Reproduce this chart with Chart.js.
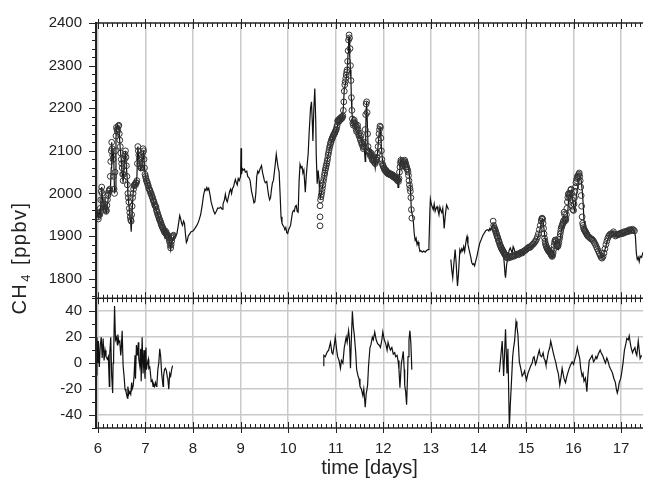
<!DOCTYPE html>
<html>
<head>
<meta charset="utf-8">
<script src="https://cdn.jsdelivr.net/npm/chart.js@4"></script>
<style>
  html, body { margin: 0; padding: 0; background: #ffffff; }
  #wrap { position: relative; width: 648px; height: 480px; }
</style>
</head>
<body>
<div id="wrap"><canvas id="c" width="648" height="480"></canvas></div>
<script>
// ---------------- data (time in days, CH4 in ppbv) ----------------
const xTicks = [6, 7, 8, 9, 10, 11, 12, 13, 14, 15, 16, 17];
const yTicksTop = [1800, 1900, 2000, 2100, 2200, 2300, 2400];
const yTicksBottom = [-40, -20, 0, 20, 40];

// continuous CH4 record (line), first part
const lineSeg1 = [
 [5.97,1940],[5.99,1955],[6.01,1945],[6.03,1960],[6.05,1950],[6.07,1990],[6.08,2015],[6.10,1985],[6.12,1965],[6.14,1975],
 [6.16,1960],[6.18,1955],[6.20,1975],[6.22,1990],[6.24,2005],[6.26,2000],[6.28,2060],[6.29,2120],[6.31,2090],[6.32,2075],
 [6.33,2100],[6.35,2000],[6.36,2010],[6.38,2130],[6.39,2155],[6.41,2160],[6.43,2150],[6.44,2160],[6.46,2120],[6.47,2105],
 [6.49,2080],[6.50,2060],[6.51,2050],[6.53,2025],[6.55,2065],[6.57,2090],[6.58,2100],[6.60,2060],[6.62,2030],[6.63,2000],
 [6.65,1975],[6.67,1950],[6.69,1930],[6.70,1910],[6.72,1960],[6.74,2000],[6.76,2020],[6.78,2020],[6.80,2025],[6.82,2040],
 [6.84,2110],[6.86,2080],[6.88,2070],[6.90,2055],[6.92,2060],[6.94,2080],[6.96,2100],[6.98,2060],[7.00,2040],[7.02,2030],
 [7.05,2020],[7.08,2010],[7.11,2000],[7.14,1995],[7.17,1980],[7.20,1970],[7.23,1960],[7.26,1950],[7.29,1940],[7.32,1930],
 [7.35,1925],[7.38,1915],[7.40,1900],[7.42,1915],[7.45,1905],[7.48,1900],[7.50,1890],[7.53,1868],[7.55,1885],[7.58,1895],
 [7.60,1900],[7.63,1900],[7.66,1905],[7.69,1925],[7.72,1948],[7.74,1940],[7.76,1930],[7.78,1925],[7.80,1935],[7.82,1930],
 [7.84,1905],[7.86,1885],[7.88,1890],[7.90,1900],[7.93,1905],[7.96,1910],[8.00,1912],[8.04,1918],[8.08,1925],[8.12,1935],
 [8.16,1950],[8.19,1970],[8.22,1995],[8.25,2010],[8.27,2007],[8.29,2014],[8.31,2008],[8.33,2012],[8.36,1995],[8.38,1980],
 [8.40,1972],[8.43,1960],[8.46,1952],[8.49,1958],[8.52,1966],[8.55,1965],[8.58,1968],[8.61,1963],[8.63,1975],[8.66,1985],
 [8.68,1998],[8.70,1985],[8.72,1980],[8.75,1995],[8.77,2005],[8.79,2010],[8.81,2000],[8.83,2012],[8.85,2015],[8.87,2025],
 [8.89,2033],[8.91,2025],[8.93,2020],[8.95,2035],[8.97,2030],[9.00,2040],[9.01,2106],[9.02,2045],[9.04,2058],[9.06,2055],
 [9.08,2057],[9.10,2050],[9.13,2052],[9.15,2040],[9.18,2036],[9.20,2030],[9.23,2005],[9.26,1990],[9.28,1978],[9.30,1980],
 [9.32,2000],[9.34,2040],[9.36,2052],[9.38,2048],[9.40,2055],[9.42,2060],[9.44,2065],[9.46,2050],[9.48,2040],[9.50,2030],
 [9.52,2025],[9.55,2028],[9.57,2010],[9.59,1995],[9.61,1985],[9.63,1990],[9.65,2010],[9.67,2025],[9.69,2030],[9.71,2050],
 [9.73,2070],[9.75,2092],[9.77,2075],[9.79,2060],[9.81,2050],[9.83,2000],[9.85,1945],[9.87,1930],[9.89,1925],[9.91,1922],
 [9.93,1915],[9.95,1920],[9.97,1908],[9.99,1906],[10.01,1915],[10.03,1920],[10.05,1925],[10.07,1940],[10.09,1955],[10.11,1960],
 [10.13,1958],[10.15,1970],[10.17,1972],[10.19,1958],[10.21,1956],[10.23,2030],[10.25,2068],[10.27,2060],[10.29,2065],[10.31,2048],
 [10.33,2055],[10.36,2003],[10.38,2040],[10.40,2068],[10.42,2092],[10.44,2140],[10.47,2200],[10.49,2215],[10.51,2160],[10.52,2123],
 [10.54,2200],[10.56,2246],[10.58,2170],[10.59,2092],[10.61,2023],[10.63,2054],[10.65,2030],[10.66,2000],[10.68,1990],[10.70,2000],
 [10.72,2015],[10.74,2028],[10.76,2040],[10.78,2052],[10.80,2062],[10.82,2075],[10.84,2090],[10.86,2100],[10.88,2110],[10.90,2118],
 [10.92,2125],[10.94,2131],[10.96,2136],[10.98,2140],[11.00,2145],[11.02,2150],[11.04,2160],[11.06,2165],[11.08,2169],[11.10,2172],
 [11.12,2175],[11.14,2178],[11.16,2200],[11.18,2246],[11.20,2255],[11.22,2270],[11.24,2285],[11.26,2330],[11.27,2360],[11.28,2369],
 [11.29,2355],[11.30,2320],[11.31,2290],[11.32,2262],[11.33,2220],[11.34,2190],[11.36,2170],[11.38,2160],[11.40,2165],[11.42,2155],
 [11.44,2150],[11.46,2146],[11.48,2140],[11.50,2135],[11.52,2131],[11.54,2125],[11.56,2115],[11.58,2110],[11.60,2108],[11.62,2075],
 [11.63,2140],[11.64,2200],[11.65,2215],[11.66,2180],[11.68,2108],[11.70,2105],[11.72,2095],[11.74,2100],[11.76,2085],[11.78,2090],
 [11.80,2075],[11.81,2077],[11.83,2060],[11.85,2085],[11.87,2085],[11.89,2110],[11.91,2140],[11.93,2155],[11.94,2154],[11.96,2110],
 [11.98,2080],[12.00,2069],[12.02,2060],[12.04,2054],[12.06,2058],[12.08,2052],[12.10,2048],[12.12,2050],[12.14,2046],[12.16,2042],
 [12.18,2048],[12.20,2045],[12.22,2040],[12.24,2042],[12.26,2038],[12.28,2040],[12.30,2036],[12.31,2014],[12.32,2030],[12.33,2023],
 [12.35,2060],[12.37,2081],[12.39,2070],[12.41,2062],[12.43,2058],[12.45,2068],[12.47,2075],[12.49,2072],[12.51,2065],[12.53,2058],
 [12.55,2040],[12.57,2014],[12.59,1960],[12.61,1950],[12.63,1937],[12.65,1906],[12.67,1890],[12.69,1895],[12.71,1880],[12.73,1886],
 [12.75,1875],[12.77,1864],[12.79,1866],[12.82,1862],[12.85,1865],[12.88,1862],[12.91,1866],[12.94,1868],[12.96,1880],[12.98,1960],
 [12.99,1987],[13.01,1975],[13.03,1968],[13.05,1962],[13.07,1975],[13.09,1958],[13.11,1965],[13.13,1969],[13.15,1960],[13.17,1950],
 [13.19,1968],[13.21,1960],[13.23,1955],[13.25,1965],[13.27,1935],[13.28,1918],[13.30,1945],[13.33,1973],[13.35,1968],[13.37,1962]
];
// continuous CH4 record (line), second part
const lineSeg2 = [
 [13.42,1845],[13.44,1820],[13.46,1802],[13.48,1830],[13.51,1868],[13.53,1840],[13.55,1800],[13.56,1783],[13.58,1810],[13.61,1868],
 [13.63,1862],[13.65,1870],[13.67,1865],[13.69,1875],[13.71,1864],[13.73,1880],[13.75,1895],[13.76,1899],[13.78,1880],[13.80,1870],
 [13.82,1860],[13.84,1850],[13.86,1838],[13.88,1833],[13.90,1835],[13.92,1830],[13.94,1840],[13.97,1853],[14.00,1870],[14.03,1884],
 [14.06,1892],[14.08,1898],[14.10,1903],[14.13,1908],[14.15,1912],[14.17,1914],[14.20,1915],[14.22,1912],[14.24,1918],[14.26,1914],
 [14.28,1920],[14.31,1928],[14.33,1922],[14.35,1918],[14.38,1912],[14.40,1900],[14.42,1895],[14.44,1885],[14.46,1880],[14.48,1875],
 [14.50,1870],[14.52,1862],[14.54,1840],[14.56,1810],[14.57,1802],[14.59,1830],[14.61,1845],[14.63,1858],[14.65,1868],[14.67,1872],
 [14.69,1866],[14.71,1860],[14.73,1875],[14.75,1870],[14.77,1862],[14.79,1855],[14.82,1858],[14.85,1860],[14.88,1856],[14.91,1862],
 [14.94,1858],[14.97,1868],[15.00,1872],[15.03,1870],[15.06,1874],[15.09,1872],[15.12,1876],[15.15,1878],[15.18,1882],[15.21,1888],
 [15.24,1895],[15.27,1905],[15.30,1918],[15.32,1930],[15.34,1940],[15.36,1935],[15.38,1915],[15.40,1895],[15.42,1883],[15.44,1875],
 [15.46,1870],[15.48,1866],[15.50,1860],[15.52,1856],[15.54,1852],[15.56,1850],[15.58,1860],[15.60,1880],[15.62,1890],[15.64,1885],
 [15.66,1870],[15.68,1868],[15.70,1880],[15.72,1895],[15.74,1910],[15.76,1922],[15.78,1918],[15.80,1930],[15.82,1940],[15.84,1930],
 [15.86,1937],[15.88,1960],[15.90,1990],[15.92,1998],[15.94,1990],[15.96,2005],[15.98,1985],[16.00,1970],[16.02,1960],[16.04,1975],
 [16.06,1995],[16.08,2010],[16.10,2025],[16.12,2035],[16.14,2040],[16.16,2030],[16.18,2010],[16.20,1980],[16.22,1935],[16.24,1925],
 [16.26,1918],[16.28,1914],[16.30,1910],[16.33,1905],[16.36,1900],[16.39,1898],[16.42,1895],[16.45,1890],[16.48,1885],[16.51,1875],
 [16.54,1865],[16.57,1855],[16.60,1848],[16.62,1852],[16.64,1860],[16.66,1868],[16.68,1875],[16.70,1885],[16.72,1892],[16.74,1898],
 [16.76,1903],[16.78,1905],[16.80,1908],[16.82,1910],[16.84,1907],[16.86,1905],[16.88,1900],[16.90,1902],[16.93,1898],[16.96,1900],
 [16.99,1904],[17.02,1906],[17.05,1905],[17.08,1908],[17.11,1910],[17.14,1912],[17.17,1910],[17.20,1912],[17.23,1915],[17.26,1914],
 [17.28,1910],[17.30,1900],[17.32,1860],[17.34,1845],[17.36,1850],[17.38,1840],[17.40,1853],[17.43,1850],[17.46,1862]
];

// discrete samples (open circles)
const circles1 = [
 [6.00,1945],[6.01,1940],[6.02,1950],[6.03,1955],[6.04,1950],[6.05,1965],[6.06,1985],[6.07,2005],[6.08,2015],[6.09,2000],
 [6.10,1985],[6.11,1975],[6.12,1970],[6.13,1965],[6.14,1975],[6.15,1968],[6.16,1962],[6.17,1958],[6.18,1960],[6.19,1972],
 [6.20,1985],[6.21,1995],[6.22,2000],[6.23,2005],[6.24,2008],[6.25,2010],[6.26,2040],[6.27,2075],[6.28,2100],[6.29,2120],
 [6.30,2105],[6.31,2090],[6.32,2080],[6.33,2040],[6.34,2010],[6.35,2000],[6.36,2050],[6.37,2100],[6.38,2135],[6.39,2155],
 [6.40,2150],[6.41,2145],[6.42,2150],[6.43,2158],[6.44,2160],[6.45,2140],[6.46,2125],[6.47,2110],[6.48,2095],[6.49,2080],
 [6.50,2070],[6.51,2060],[6.52,2045],[6.53,2030],[6.54,2045],[6.55,2065],[6.56,2080],[6.57,2092],[6.58,2100],[6.59,2085],
 [6.60,2065],[6.61,2040],[6.62,2020],[6.63,2000],[6.64,1990],[6.65,1980],[6.66,1965],[6.67,1955],[6.68,1945],[6.69,1938],
 [6.70,1935],[6.71,1950],[6.72,1970],[6.73,1990],[6.74,2000],[6.75,2010],[6.76,2018],[6.77,2020],[6.78,2022],[6.79,2020],
 [6.80,2025],[6.81,2025],[6.82,2030],[6.83,2070],[6.84,2110],[6.85,2100],[6.86,2090],[6.87,2080],[6.88,2070],[6.89,2065],
 [6.90,2060],[6.91,2060],[6.92,2070],[6.93,2085],[6.94,2095],[6.95,2105],[6.96,2100],[6.97,2080],[6.98,2060],[6.99,2045],
 [7.00,2040],[7.01,2035],[7.02,2030],[7.03,2028],[7.04,2025],[7.05,2020],[7.06,2018],[7.07,2012],[7.08,2010],[7.09,2008],
 [7.10,2005],[7.11,2000],[7.12,2000],[7.13,1995],[7.14,1992],[7.15,1990],[7.16,1985],[7.17,1982],[7.18,1980],[7.19,1975],
 [7.20,1972],[7.21,1970],[7.22,1968],[7.23,1962],[7.24,1958],[7.25,1955],[7.26,1950],[7.27,1948],[7.28,1944],[7.29,1940],
 [7.30,1938],[7.31,1935],[7.32,1932],[7.33,1928],[7.34,1925],[7.35,1922],[7.36,1920],[7.37,1918],[7.38,1915],[7.39,1912],
 [7.40,1910],[7.41,1908],[7.42,1912],[7.43,1905],[7.44,1908],[7.45,1903],[7.46,1900],[7.47,1902],[7.48,1898],[7.49,1895],
 [7.50,1890],[7.51,1885],[7.52,1878],[7.53,1872],[7.54,1880],[7.55,1888],[7.56,1895],[7.57,1898],[7.58,1900],[7.59,1902]
];
const circles2 = [
 [10.67,1924],[10.67,1945],[10.67,1971],
 [10.68,1985],[10.69,1992],[10.70,1998],[10.71,2005],[10.72,2012],[10.73,2020],[10.74,2028],[10.75,2035],[10.76,2042],[10.77,2048],
 [10.78,2055],[10.79,2060],[10.80,2065],[10.81,2070],[10.82,2076],[10.83,2082],[10.84,2090],[10.85,2096],[10.86,2102],[10.87,2108],
 [10.88,2112],[10.89,2118],[10.90,2120],[10.91,2125],[10.92,2128],[10.93,2130],[10.94,2133],[10.95,2136],[10.96,2138],[10.97,2140],
 [10.98,2142],[10.99,2145],[11.00,2148],[11.01,2150],[11.02,2155],[11.03,2160],[11.04,2170],[11.05,2172],[11.06,2168],[11.07,2170],
 [11.08,2175],[11.09,2172],[11.10,2176],[11.11,2178],[11.12,2175],[11.13,2180],[11.14,2178],[11.15,2182],[11.16,2195],[11.17,2215],
 [11.18,2240],[11.19,2255],[11.20,2262],[11.21,2270],[11.22,2278],[11.23,2285],[11.24,2290],[11.25,2310],[11.26,2335],[11.27,2360],
 [11.28,2372],[11.29,2365],[11.30,2340],[11.31,2300],[11.32,2265],[11.33,2225],[11.34,2195],[11.35,2175],[11.36,2165],[11.37,2160],
 [11.38,2168],[11.39,2172],[11.40,2165],[11.41,2158],[11.42,2162],[11.43,2150],[11.44,2145],[11.45,2155],[11.46,2160],[11.47,2150],
 [11.48,2140],[11.49,2135],[11.50,2142],[11.51,2130],[11.52,2125],[11.53,2135],[11.54,2120],[11.55,2115],[11.56,2118],[11.57,2110],
 [11.58,2105],[11.59,2112],[11.60,2108],[11.61,2120],[11.62,2150],[11.63,2185],[11.64,2210],[11.65,2215],[11.66,2190],[11.67,2140],
 [11.68,2110],[11.69,2100],[11.70,2095],[11.71,2098],[11.72,2092],[11.73,2088],[11.74,2095],[11.75,2090],[11.76,2082],[11.77,2078],
 [11.78,2085],[11.79,2080],[11.80,2075],[11.81,2078],[11.82,2072],[11.83,2070],[11.84,2075],[11.85,2080],[11.86,2078],[11.87,2085],
 [11.88,2095],[11.89,2110],[11.90,2125],[11.91,2140],[11.92,2150],[11.93,2158],[11.94,2155],[11.95,2130],[11.96,2100],[11.97,2080],
 [11.98,2070],[11.99,2066],[12.00,2064],[12.01,2060],[12.02,2058],[12.03,2055],[12.04,2056],[12.05,2052],[12.06,2054],[12.07,2050],
 [12.08,2048],[12.09,2050],[12.10,2046],[12.11,2048],[12.12,2045],[12.13,2047],[12.14,2044],[12.15,2046],[12.16,2043],[12.17,2045],
 [12.18,2042],[12.19,2044],[12.20,2040],[12.21,2042],[12.22,2038],[12.23,2040],[12.24,2037],[12.25,2039],[12.26,2035],[12.27,2036],
 [12.28,2033],[12.29,2034],[12.30,2030],[12.31,2032],[12.32,2028],[12.33,2035],[12.34,2050],[12.35,2062],[12.36,2072],[12.37,2078],
 [12.38,2075],[12.39,2070],[12.40,2066],[12.41,2064],[12.42,2068],[12.43,2072],[12.44,2075],[12.45,2078],[12.46,2074],[12.47,2070],
 [12.48,2066],[12.49,2062],[12.50,2058],[12.51,2055],[12.52,2050],[12.53,2042],[12.54,2030],[12.55,2020],[12.56,2012],[12.57,2005],
 [12.58,1990],[12.59,1962],[12.60,1942]
];
const circles3 = [
 [14.31,1935],[14.32,1925],[14.33,1920],[14.34,1918],[14.35,1915],[14.36,1912],[14.37,1908],[14.38,1905],[14.39,1900],[14.40,1898],
 [14.41,1895],[14.42,1890],[14.43,1888],[14.44,1885],[14.45,1880],[14.46,1878],[14.47,1875],[14.48,1872],[14.49,1870],[14.50,1868],
 [14.51,1866],[14.52,1864],[14.53,1862],[14.54,1860],[14.55,1858],[14.56,1856],[14.57,1855],[14.58,1852],[14.59,1850],[14.60,1850],
 [14.62,1848],[14.64,1850],[14.66,1852],[14.68,1850],[14.70,1853],[14.72,1852],[14.74,1855],[14.76,1853],[14.78,1855],[14.80,1857],
 [14.82,1858],[14.84,1856],[14.86,1858],[14.88,1860],[14.90,1862],[14.92,1860],[14.94,1863],[14.96,1865],[14.98,1866],[15.00,1868],
 [15.02,1870],[15.04,1872],[15.06,1874],[15.08,1873],[15.10,1875],[15.12,1878],[15.14,1880],[15.16,1882],[15.18,1885],[15.20,1888],
 [15.22,1892],[15.24,1898],[15.26,1905],[15.28,1915],[15.30,1925],[15.32,1935],[15.33,1940],[15.34,1942],[15.35,1940],[15.36,1930],
 [15.37,1918],[15.38,1905],[15.39,1895],[15.40,1888],[15.41,1882],[15.42,1878],[15.43,1875],[15.44,1872],[15.45,1870],[15.46,1868],
 [15.47,1866],[15.48,1864],[15.49,1866],[15.50,1862],[15.51,1860],[15.52,1858],[15.53,1856],[15.54,1854],[15.55,1852],[15.56,1855],
 [15.57,1860],[15.58,1868],[15.59,1878],[15.60,1885],[15.61,1890],[15.62,1891],[15.63,1888],[15.64,1882],[15.65,1878],[15.66,1875],
 [15.67,1876],[15.68,1880],[15.69,1885],[15.70,1892],[15.71,1898],[15.72,1905],[15.73,1912],[15.74,1918],[15.75,1922],[15.76,1925],
 [15.77,1928],[15.78,1932],[15.79,1936],[15.80,1956],[15.81,1951],[15.82,1940],[15.83,1936],[15.84,1940],[15.85,1950],[15.86,1965],
 [15.87,1980],[15.88,1990],[15.89,1998],[15.90,2000],[15.91,1995],[15.92,1990],[15.93,2000],[15.94,2008],[15.95,2010],[15.96,2000],
 [15.97,1985],[15.98,1970],[15.99,1962],[16.00,1960],[16.01,1975],[16.02,1990],[16.03,2005],[16.04,2015],[16.05,2025],[16.06,2030],
 [16.07,2035],[16.08,2040],[16.09,2038],[16.10,2042],[16.11,2045],[16.12,2048],[16.13,2040],[16.14,2030],[16.15,2015],[16.16,1995],
 [16.17,1970],[16.18,1945],[16.19,1930],[16.20,1925],[16.21,1920],[16.22,1916],[16.23,1914],[16.24,1912],[16.25,1910],[16.26,1908],
 [16.27,1906],[16.28,1904],[16.29,1902],[16.30,1900],[16.32,1898],[16.34,1896],[16.36,1894],[16.38,1893],[16.40,1891],[16.42,1888],
 [16.44,1884],[16.46,1880],[16.48,1875],[16.50,1870],[16.52,1865],[16.54,1860],[16.56,1855],[16.58,1850],[16.60,1848],[16.62,1852],
 [16.64,1860],[16.66,1870],[16.68,1880],[16.70,1888],[16.72,1895],[16.74,1900],[16.76,1903],[16.78,1905],[16.80,1904],[16.82,1906],
 [16.84,1910],[16.86,1905],[16.88,1900],[16.90,1902],[16.92,1904],[16.94,1903],[16.96,1905],[16.98,1906],[17.00,1905],[17.02,1908],
 [17.04,1906],[17.06,1910],[17.08,1908],[17.10,1910],[17.12,1912],[17.14,1910],[17.16,1913],[17.18,1915],[17.20,1912],[17.22,1914],
 [17.24,1916],[17.26,1914],[17.28,1912]
];

// difference series (lower panel, ppbv)
const diff1 = [
 [5.97,-9],[5.98,20],[6.00,0],[6.01,17],[6.03,-3],[6.05,14],[6.07,20],[6.09,4],[6.11,19],[6.13,2],[6.15,10],[6.17,5],[6.20,3],
 [6.22,5],[6.24,-18],[6.25,8],[6.27,20],[6.29,-10],[6.31,-23],[6.32,0],[6.33,5],[6.35,44],[6.37,18],[6.39,20],[6.41,14],[6.42,22],
 [6.44,16],[6.46,17],[6.48,6],[6.49,10],[6.51,25],[6.53,-2],[6.55,-10],[6.57,-20],[6.59,-22],[6.62,-27],[6.63,-18],[6.65,-24],
 [6.67,-22],[6.69,-24],[6.71,-15],[6.72,-20],[6.74,-18],[6.76,-10],[6.78,6],[6.79,-12],[6.81,14],[6.83,6],[6.85,16],[6.86,3],
 [6.88,-2],[6.90,11],[6.91,-14],[6.93,20],[6.95,-8],[6.97,10],[6.99,-12],[7.01,12],[7.02,-5],[7.04,0],[7.06,3],[7.07,-4],
 [7.09,-3],[7.10,-6],[7.12,-14],[7.14,-13],[7.16,-18],[7.17,-16],[7.19,-18],[7.21,-15],[7.23,-18],[7.24,-17],[7.26,-5],[7.28,0],
 [7.30,11],[7.32,5],[7.34,-8],[7.37,-18],[7.38,-10],[7.40,-5],[7.42,-4],[7.44,-6],[7.46,-11],[7.47,-12],[7.49,-20],[7.51,-8],
 [7.53,-10],[7.55,-5],[7.57,-2]
];
const diff2 = [
 [10.74,-2],[10.75,6],[10.78,5],[10.82,8.5],[10.85,10],[10.89,16],[10.92,8],[10.94,7],[10.97,14],[10.99,20],[11.02,10],[11.04,5],
 [11.07,2],[11.10,-4],[11.12,2],[11.15,0],[11.18,12],[11.22,20],[11.24,16],[11.27,25],[11.29,18],[11.31,-4],[11.33,20],[11.35,40],
 [11.37,28],[11.39,22],[11.42,8],[11.44,-5],[11.47,-10],[11.49,-12],[11.51,-18],[11.54,-20],[11.57,-25],[11.59,-20],[11.62,-34],
 [11.64,-24],[11.67,-17],[11.69,-2],[11.72,12],[11.74,14],[11.77,20],[11.79,18],[11.82,24],[11.85,18],[11.88,15],[11.91,14],
 [11.94,12],[11.97,18],[11.99,24],[12.02,18],[12.05,15],[12.08,10],[12.10,16],[12.13,12],[12.15,10],[12.18,12],[12.21,7],[12.24,8],
 [12.26,5],[12.29,6],[12.31,2],[12.33,-5],[12.35,-19],[12.37,-6],[12.38,0],[12.40,4],[12.42,9],[12.44,-5],[12.45,-17],[12.47,-22],
 [12.49,-32],[12.51,-10],[12.52,5],[12.54,18],[12.56,25],[12.58,15],[12.60,-5]
];
const diff3 = [
 [14.44,-7],[14.47,5],[14.50,17],[14.53,-10],[14.55,8],[14.57,26],[14.60,-8],[14.62,11],[14.65,-50],[14.67,-32],[14.69,-18],
 [14.72,5],[14.74,12],[14.76,17],[14.79,32],[14.81,28],[14.83,22],[14.86,1],[14.89,-4],[14.92,-10],[14.95,-8],[14.97,-6],[14.99,-10],
 [15.01,-13],[15.04,-8],[15.07,-5],[15.10,-2],[15.13,0],[15.15,4],[15.17,5],[15.20,-1],[15.22,1],[15.25,6],[15.28,10],[15.30,6],
 [15.33,5],[15.36,8],[15.38,3.5],[15.40,2],[15.42,-1.5],[15.45,4],[15.47,8.5],[15.50,12],[15.52,17],[15.55,12],[15.57,8.5],
 [15.60,4],[15.63,0],[15.65,-4],[15.68,-8],[15.71,-17],[15.74,-10],[15.76,-4],[15.78,-8],[15.80,-12],[15.83,-15],[15.86,-10],
 [15.90,-5],[15.93,-2],[15.97,1],[16.00,-1],[16.03,3.5],[16.05,6],[16.08,12],[16.10,8],[16.13,3.5],[16.15,-4],[16.18,-10],
 [16.20,-8],[16.22,-14],[16.25,-11.5],[16.28,-22],[16.30,-10],[16.33,2],[16.36,4],[16.39,6],[16.42,1],[16.44,2],[16.47,5],
 [16.49,3.5],[16.52,7],[16.56,10],[16.58,8],[16.61,6],[16.64,3],[16.67,0],[16.70,4],[16.72,2],[16.75,-2],[16.77,-4],[16.80,-6],
 [16.82,-8],[16.85,-12],[16.88,-15],[16.90,-20],[16.92,-23],[16.94,-20],[16.96,-15],[16.99,-12],[17.01,-8],[17.04,0],[17.07,10],
 [17.10,15],[17.12,19],[17.15,18],[17.17,21],[17.19,16],[17.21,12],[17.24,8],[17.26,10],[17.29,12],[17.31,8],[17.33,6],
 [17.36,17],[17.38,10],[17.40,3.5],[17.43,6]
];

// ---------------- build chart ----------------
const xMin = 5.96, xMax = 17.46;
const gap = (t) => [[t, null]];
const toXY = (arr) => arr.map(([x, y]) => ({x, y}));

const lineData = toXY([...lineSeg1, ...gap(13.40), ...lineSeg2]);
const circleData = toXY([...circles1, ...circles2, ...circles3]);
const diffData = toXY([...diff1, ...gap(8.5), ...diff2, ...gap(13.5), ...diff3]);

const FONT = "'Liberation Sans', Arial, Helvetica, sans-serif";
const INK = '#222222';
const GRID = '#c9c9c9';
const plain = (v) => String(v);

const framePlugin = {
  id: 'frame',
  afterDraw(chart) {
    const {ctx, chartArea: a} = chart;
    const sx = chart.scales.x, st = chart.scales.y, sb = chart.scales.y2;
    const yd = st.bottom;
    const seg = (x1, y1, x2, y2) => { ctx.beginPath(); ctx.moveTo(x1, y1); ctx.lineTo(x2, y2); ctx.stroke(); };
    ctx.save();
    ctx.strokeStyle = INK;
    ctx.lineWidth = 1;
    for (let k = Math.ceil(xMin * 10); k <= Math.floor(xMax * 10); k++) {
      const px = Math.round(sx.getPixelForValue(k / 10)) + 0.5;
      const major = k % 10 === 0;
      if (major) {
        seg(px, a.top - 4, px, a.top + 6);
        seg(px, yd - 6, px, yd + 6);
        seg(px, a.bottom - 6, px, a.bottom + 5);
      } else {
        seg(px, a.top, px, a.top + 4);
        seg(px, yd - 3.5, px, yd + 4);
        seg(px, a.bottom - 4, px, a.bottom);
      }
    }
    for (let v = 1760; v <= 2400; v += 20) {
      const py = Math.round(st.getPixelForValue(v)) + 0.5;
      seg(a.left - (v % 100 === 0 ? 7 : 4), py, a.left, py);
    }
    for (let v = -50; v <= 50; v += 10) {
      const py = Math.round(sb.getPixelForValue(v)) + 0.5;
      seg(a.left - (v % 20 === 0 && Math.abs(v) < 50 ? 7 : 4), py, a.left, py);
    }
    ctx.lineWidth = 1.5;
    seg(a.left, a.top, a.right, a.top);
    seg(a.left, yd, a.right, yd);
    seg(a.left, a.bottom, a.right, a.bottom);
    ctx.lineWidth = 2;
    seg(a.left, a.top - 1, a.left, a.bottom + 1);

    // y-axis title: CH4 [ppbv] with subscript
    ctx.fillStyle = INK;
    const big = '20px ' + FONT, small = '13px ' + FONT;
    if ('letterSpacing' in ctx) ctx.letterSpacing = '1.5px';
    ctx.font = big;
    const w1 = ctx.measureText('CH').width;
    const w3 = ctx.measureText(' [ppbv]').width;
    ctx.font = small;
    const w2 = ctx.measureText('4').width + 2;
    const total = w1 + w2 + w3;
    ctx.translate(26, 258);
    ctx.rotate(-Math.PI / 2);
    ctx.textBaseline = 'alphabetic';
    ctx.textAlign = 'left';
    let u = -total / 2;
    ctx.font = big; ctx.fillText('CH', u, 0); u += w1;
    ctx.font = small; ctx.fillText('4', u + 1, 4); u += w2;
    ctx.font = big; ctx.fillText(' [ppbv]', u, 0);
    ctx.restore();
  }
};

new Chart(document.getElementById('c'), {
  type: 'line',
  data: {
    datasets: [
      {
        label: 'CH4 continuous',
        data: lineData,
        yAxisID: 'y',
        borderColor: '#111111',
        borderWidth: 1.2,
        pointRadius: 0,
        spanGaps: false,
        tension: 0,
        order: 2
      },
      {
        label: 'CH4 samples',
        data: circleData,
        yAxisID: 'y',
        showLine: false,
        pointStyle: 'circle',
        pointRadius: 2.9,
        pointBorderWidth: 1,
        pointBorderColor: '#333333',
        pointBackgroundColor: 'rgba(255,255,255,0)',
        order: 1
      },
      {
        label: 'difference',
        data: diffData,
        yAxisID: 'y2',
        borderColor: '#111111',
        borderWidth: 1.2,
        pointRadius: 0,
        spanGaps: false,
        tension: 0,
        order: 3
      }
    ]
  },
  options: {
    responsive: false,
    animation: false,
    devicePixelRatio: 1,
    layout: { padding: { left: 0, right: 0, top: 16, bottom: 0 } },
    plugins: { legend: { display: false }, tooltip: { enabled: false } },
    scales: {
      x: {
        type: 'linear',
        min: xMin, max: xMax,
        afterBuildTicks: (s) => { s.ticks = xTicks.map(v => ({value: v})); },
        afterFit: (s) => { s.height = 52; },
        grid: { color: GRID, lineWidth: 1.5, drawTicks: false },
        border: { display: false },
        ticks: { font: { family: FONT, size: 15 }, color: INK, padding: 12, maxRotation: 0, autoSkip: false, callback: plain },
        title: { display: true, text: 'time [days]', font: { family: FONT, size: 20 }, color: INK, padding: { top: 0, bottom: 0 } }
      },
      y: {
        type: 'linear',
        position: 'left',
        stack: 'panels',
        stackWeight: 280,
        weight: 1,
        min: 1754, max: 2400,
        afterBuildTicks: (s) => { s.ticks = yTicksTop.map(v => ({value: v})); },
        afterFit: (s) => { s.width = 96; },
        grid: { display: false, drawTicks: false },
        border: { display: false },
        ticks: { font: { family: FONT, size: 15 }, color: INK, padding: 14, autoSkip: false, callback: plain }
      },
      y2: {
        type: 'linear',
        position: 'left',
        stack: 'panels',
        stackWeight: 132,
        weight: 0,
        min: -50, max: 50,
        afterBuildTicks: (s) => { s.ticks = yTicksBottom.map(v => ({value: v})); },
        afterFit: (s) => { s.width = 96; },
        grid: { color: GRID, lineWidth: 1.5, drawTicks: false },
        border: { display: false },
        ticks: { font: { family: FONT, size: 15 }, color: INK, padding: 14, autoSkip: false, callback: plain }
      }
    }
  },
  plugins: [framePlugin]
});
</script>
</body>
</html>
